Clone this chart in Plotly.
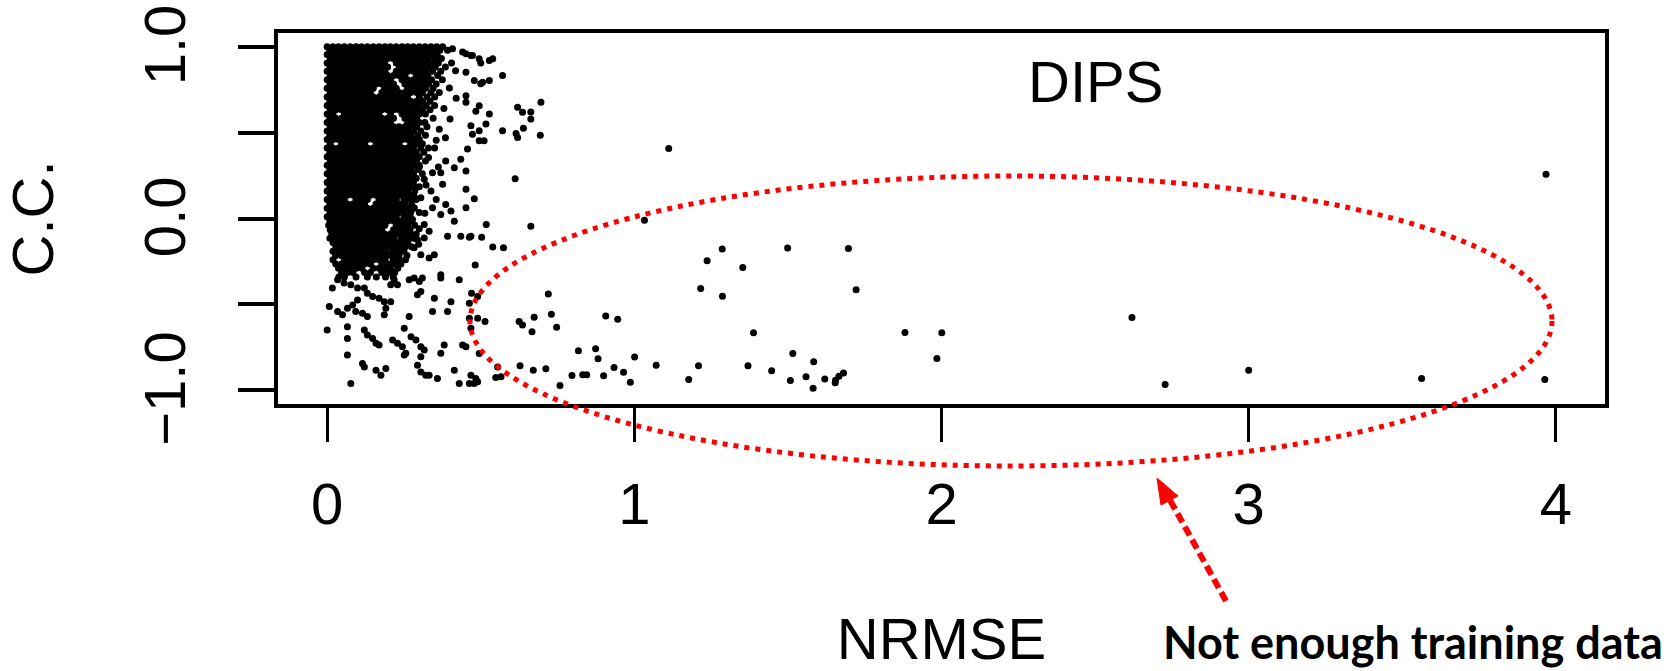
import plotly.graph_objects as go

# ---------------- data ----------------
# Dense core of the cloud: each row = (C.C. value, list of NRMSE values)
core_rows = [
    (1.000, [0, .019, .037, .056, .075, .094, .112, .131, .150, .169, .188, .206, .225, .244, .262, .281, .300, .319, .338, .357, .376]),
    (0.979, [.009, .028, .047, .066, .084, .103, .122, .141, .160, .178, .197, .216, .235, .253, .272, .291, .310, .329, .348, .367, .392]),
    (0.955, [0, .019, .038, .056, .075, .094, .113, .131, .150, .169, .188, .206, .225, .244, .263, .281, .300, .320, .340, .358]),
    (0.931, [.010, .028, .047, .065, .084, .103, .122, .140, .159, .178, .197, .215, .234, .253, .272, .290, .309, .328, .350, .372]),
    (0.906, [0, .019, .037, .056, .075, .094, .112, .131, .150, .169, .187, .225, .244, .262, .281, .300, .319, .340, .362]),
    (0.882, [.009, .028, .047, .066, .084, .103, .122, .141, .159, .178, .197, .235, .253, .272, .291, .310, .330, .352, .385]),
    (0.857, [0, .019, .038, .056, .075, .094, .112, .131, .150, .169, .188, .225, .244, .263, .281, .300, .320, .343, .370]),
    (0.832, [.010, .028, .047, .066, .085, .103, .122, .141, .160, .178, .197, .216, .234, .253, .291, .309, .328, .360]),
    (0.808, [0, .019, .037, .056, .075, .094, .113, .131, .150, .169, .187, .206, .244, .262, .281, .300, .319, .340, .375]),
    (0.783, [.009, .028, .047, .066, .084, .103, .122, .141, .159, .178, .197, .216, .253, .272, .291, .310, .330, .355]),
    (0.758, [0, .019, .038, .056, .075, .094, .112, .131, .150, .187, .206, .225, .262, .281, .300, .320, .345]),
    (0.733, [.010, .028, .047, .066, .084, .103, .122, .141, .178, .197, .216, .234, .253, .272, .291, .310, .338, .365]),
    (0.708, [0, .019, .037, .056, .075, .094, .113, .131, .150, .169, .187, .206, .225, .244, .262, .300, .325, .350]),
    (0.683, [.009, .028, .047, .066, .084, .103, .122, .141, .159, .178, .197, .216, .234, .253, .272, .291, .310, .335]),
    (0.658, [0, .019, .038, .056, .075, .094, .112, .131, .150, .169, .188, .206, .225, .244, .262, .281, .300, .322, .350]),
    (0.633, [.010, .028, .047, .066, .085, .103, .122, .141, .160, .178, .197, .216, .234, .253, .272, .291, .310, .335]),
    (0.608, [0, .019, .056, .075, .094, .112, .131, .150, .169, .206, .244, .262, .281, .300, .320]),
    (0.584, [.009, .028, .047, .066, .084, .103, .122, .141, .159, .178, .197, .216, .253, .272, .291, .345]),
    (0.559, [0, .019, .038, .056, .075, .094, .112, .131, .150, .169, .188, .206, .262, .281, .300, .318]),
    (0.534, [.010, .028, .047, .066, .085, .103, .122, .141, .160, .178, .197, .216, .234, .253, .272, .291, .325]),
    (0.509, [0, .019, .037, .056, .075, .094, .113, .131, .150, .169, .187, .206, .225, .244, .262, .281, .305]),
    (0.485, [.009, .028, .047, .066, .084, .103, .122, .141, .159, .178, .197, .216, .234, .253, .272, .295, .320]),
    (0.460, [0, .019, .038, .056, .075, .094, .112, .131, .150, .169, .188, .206, .225, .244, .262, .281, .300]),
    (0.435, [.010, .047, .066, .085, .103, .122, .160, .178, .197, .216, .234, .272, .291, .310]),
    (0.410, [0, .019, .037, .056, .075, .094, .113, .131, .150, .169, .187, .206, .225, .244, .262, .281, .305, .330]),
    (0.385, [.009, .028, .047, .066, .084, .103, .122, .141, .159, .178, .197, .216, .234, .253, .272, .290, .315]),
    (0.360, [0, .019, .038, .056, .075, .094, .112, .131, .150, .169, .188, .206, .225, .244, .262, .281, .300]),
    (0.335, [.010, .028, .047, .066, .085, .103, .122, .141, .160, .178, .197, .216, .234, .253, .272, .291, .320]),
    (0.310, [0, .019, .037, .056, .075, .094, .113, .131, .150, .169, .187, .206, .225, .244, .262, .281, .300]),
    (0.285, [.009, .028, .047, .066, .084, .103, .122, .141, .159, .178, .197, .216, .234, .253, .272, .295]),
    (0.260, [0, .019, .038, .056, .075, .094, .112, .131, .150, .169, .188, .206, .225, .244, .262, .281, .310]),
    (0.235, [.010, .028, .047, .066, .085, .103, .122, .141, .160, .178, .197, .216, .234, .253, .272, .290]),
    (0.210, [0, .019, .037, .056, .075, .094, .113, .131, .150, .169, .187, .206, .225, .244, .262, .281]),
    (0.185, [.009, .028, .047, .066, .084, .103, .122, .141, .159, .178, .197, .216, .234, .253, .272, .300]),
    (0.160, [0, .019, .038, .056, .075, .094, .112, .131, .150, .169, .188, .206, .225, .244, .262, .285]),
    (0.135, [.010, .028, .047, .066, .085, .103, .122, .141, .160, .178, .197, .216, .234, .253, .272]),
    (0.110, [0, .019, .037, .056, .094, .113, .131, .169, .187, .206, .225, .250, .270, .290]),
    (0.085, [.009, .028, .047, .066, .084, .103, .122, .159, .178, .197, .216, .234, .253, .275]),
    (0.060, [0, .019, .038, .056, .075, .094, .112, .131, .150, .169, .188, .206, .225, .244, .262, .283]),
    (0.035, [.010, .028, .047, .066, .085, .103, .122, .141, .160, .178, .197, .216, .234, .253, .272, .300]),
    (0.010, [0, .019, .037, .056, .075, .094, .113, .131, .150, .169, .187, .206, .225, .250, .270]),
    (-0.015, [.009, .028, .047, .066, .084, .103, .122, .141, .159, .178, .197, .216, .234, .253, .272]),
    (-0.040, [.005, .019, .038, .056, .075, .094, .112, .131, .150, .169, .188, .225, .244, .262, .285]),
    (-0.065, [.010, .028, .047, .066, .085, .103, .122, .141, .160, .178, .216, .234, .253, .270]),
    (-0.090, [.015, .037, .056, .075, .094, .113, .131, .150, .169, .187, .206, .225, .244, .262, .290]),
    (-0.115, [.009, .028, .047, .066, .084, .103, .122, .141, .159, .178, .197, .216, .240, .258, .280]),
    (-0.140, [.019, .038, .056, .075, .094, .112, .131, .150, .169, .188, .206, .225, .244, .262]),
    (-0.165, [.028, .047, .066, .085, .103, .122, .141, .160, .178, .197, .216, .234, .255, .275]),
    (-0.190, [.019, .037, .056, .075, .094, .113, .131, .150, .169, .187, .210, .230, .250]),
    (-0.215, [.028, .047, .066, .084, .103, .122, .141, .159, .178, .197, .216, .234, .260]),
    (-0.240, [.019, .056, .075, .094, .112, .131, .150, .169, .188, .215, .235, .255]),
    (-0.265, [.028, .047, .066, .085, .103, .122, .141, .178, .200, .220, .240]),
    (-0.290, [.037, .056, .075, .094, .113, .150, .169, .188, .206, .230]),
    (-0.315, [.047, .066, .084, .122, .141, .178, .200, .220]),
    (-0.340, [.038, .056, .094, .131, .160, .190, .215]),
]

# Scattered points around the core (NRMSE, C.C.)
edge_points = [
    (0.408, 0.988), (0.441, 0.969), (0.468, 0.949), (0.528, 0.920), (0.506, 0.793),
    (0.452, 0.959), (0.473, 0.949), (0.495, 0.930), (0.500, 0.905), (0.539, 0.930), (0.571, 0.832), (0.452, 0.852),
    (0.479, 0.803), (0.500, 0.784), (0.528, 0.803), (0.452, 0.715), (0.452, 0.677), (0.495, 0.657), (0.484, 0.624),
    (0.528, 0.608), (0.620, 0.647), (0.636, 0.618), (0.468, 0.540), (0.473, 0.491), (0.495, 0.511), (0.517, 0.550),
    (0.511, 0.452), (0.495, 0.452), (0.571, 0.511), (0.615, 0.495), (0.620, 0.472), (0.639, 0.525), (0.457, 0.404),
    (0.452, 0.277), (0.612, 0.232), (0.452, 0.170), (0.479, 0.115), (0.452, 0.063),
    (0.696, 0.677), (0.663, 0.620), (0.663, 0.579), (0.694, 0.485),
    (0.251, 0.335), (0.386, 0.335), (0.414, 0.296), (0.435, 0.345), (0.343, 0.267), (0.370, 0.267),
    (0.283, 0.238), (0.316, 0.228), (0.376, 0.199), (0.283, 0.130), (0.305, 0.121), (0.338, 0.160), (0.343, 0.063),
    (0.386, 0.082), (0.403, 0.043), (0.370, 0.023), (0.414, -0.016), (0.283, 0.063), (0.278, -0.006),
    (0.316, -0.035), (0.332, -0.074), (0.316, -0.113), (0.294, -0.123), (0.273, -0.094), (0.283, -0.171),
    (0.305, -0.211), (0.332, -0.230), (0.349, -0.211), (0.392, -0.104), (0.435, -0.104), (0.468, -0.104), (0.370, -0.327),
    (0.518, -0.035), (0.463, -0.109), (0.503, -0.109), (0.539, -0.166), (0.574, -0.171), (0.482, -0.271), (0.663, -0.045),
    (0.405, 0.905), (0.418, 0.860), (0.398, 0.760), (0.420, 0.700), (0.380, 0.640), (0.400, 0.580), (0.365, 0.520),
    (0.385, 0.470), (0.350, 0.410), (0.330, 0.355), (0.300, 0.300), (0.290, 0.180),
    (0.355, 0.455), (0.362, 0.300), (0.322, 0.195), (0.355, 0.110), (0.318, 0.030), (0.300, -0.060), (0.298, -0.150),
]

# Lower-left chains of points (NRMSE, C.C.)
lower_points = [
    (0.017, -0.405), (0.034, -0.357), (0.055, -0.376), (0.077, -0.386), (0.099, -0.405), (0.121, -0.405), (0.131, -0.435),
    (0.148, -0.454), (0.169, -0.464), (0.186, -0.484), (0.207, -0.484), (0.191, -0.522), (0.186, -0.561),
    (0.007, -0.513), (0.034, -0.542), (0.050, -0.561), (0.066, -0.522), (0.083, -0.503), (0.099, -0.474), (0.093, -0.542),
    (0.115, -0.552), (0.131, -0.571), (0.000, -0.649), (0.066, -0.630), (0.066, -0.698), (0.066, -0.795), (0.077, -0.961),
    (0.121, -0.649), (0.131, -0.678), (0.148, -0.698), (0.159, -0.727), (0.169, -0.737),
    (0.115, -0.844), (0.121, -0.864), (0.159, -0.883), (0.175, -0.912), (0.191, -0.873),
    (0.213, -0.708), (0.229, -0.727), (0.245, -0.747), (0.251, -0.795), (0.256, -0.785),
    (0.251, -0.639), (0.267, -0.571), (0.207, -0.386), (0.229, -0.386), (0.218, -0.357),
    (0.267, -0.357), (0.283, -0.347), (0.300, -0.367), (0.310, -0.347), (0.305, -0.425), (0.294, -0.444),
    (0.273, -0.688), (0.289, -0.708), (0.305, -0.747), (0.316, -0.766), (0.305, -0.805), (0.294, -0.854),
    (0.305, -0.893), (0.321, -0.912), (0.332, -0.912), (0.359, -0.932),
    (0.349, -0.464), (0.343, -0.542), (0.392, -0.542), (0.403, -0.484), (0.370, -0.347), (0.430, -0.357),
    (0.381, -0.737), (0.370, -0.785), (0.414, -0.883), (0.441, -0.737), (0.430, -0.961), (0.463, -0.961),
    (0.470, -0.435), (0.463, -0.493), (0.490, -0.454), (0.463, -0.581), (0.490, -0.581), (0.514, -0.600), (0.468, -0.639),
    (0.625, -0.600), (0.636, -0.620), (0.452, -0.747), (0.495, -0.786), (0.555, -0.864), (0.566, -0.922), (0.549, -0.926),
    (0.468, -0.912), (0.484, -0.932), (0.479, -0.961), (0.490, -0.951), (0.628, -0.858),
]

# Points with large NRMSE (NRMSE, C.C.)
far_points = [
    (1.112, 0.408), (1.033, -0.010), (1.286, -0.177), (1.237, -0.246), (1.353, -0.285), (1.499, -0.172), (1.697, -0.175),
    (1.216, -0.407), (1.287, -0.452), (1.722, -0.415), (0.720, -0.440), (0.674, -0.575), (0.730, -0.557), (0.667, -0.659),
    (0.747, -0.633), (0.907, -0.567), (0.946, -0.587), (1.388, -0.665), (1.881, -0.663), (2.001, -0.665), (1.985, -0.815),
    (0.818, -0.770), (0.874, -0.758), (0.882, -0.817), (1.001, -0.807), (1.516, -0.786), (1.584, -0.834),
    (0.671, -0.883), (0.712, -0.875), (0.797, -0.914), (0.832, -0.910), (0.845, -0.910), (0.900, -0.916), (0.934, -0.868),
    (0.965, -0.895), (0.987, -0.953), (0.758, -0.973), (1.071, -0.854), (1.177, -0.938), (1.209, -0.858), (1.370, -0.858),
    (1.447, -0.887), (1.508, -0.943), (1.559, -0.922), (1.582, -0.988), (1.620, -0.934), (1.655, -0.942), (1.666, -0.918),
    (1.681, -0.899), (1.654, -0.957),
    (3.968, 0.257), (2.620, -0.577), (2.728, -0.967), (3.000, -0.883), (3.563, -0.932), (3.964, -0.938),
]

x_ticks = [0, 1, 2, 3, 4]
x_tick_labels = ["0", "1", "2", "3", "4"]
y_ticks = [-1.0, -0.5, 0.0, 0.5, 1.0]
y_tick_labels = ["\u22121.0", "", "0.0", "", "1.0"]

# ---------------- build arrays ----------------
nrmse, cc = [], []
for yv, xs in core_rows:
    for xv in xs:
        nrmse.append(xv)
        cc.append(yv)
for group in (edge_points, lower_points, far_points):
    for xv, yv in group:
        nrmse.append(xv)
        cc.append(yv)

W, H = 1680, 671
L, R, T, B = 278, 75, 33, 267
pw, ph = W - L - R, H - T - B


def px(xp):
    return (xp - L) / pw


def py(yp):
    return (H - B - yp) / ph


fig = go.Figure()
fig.add_trace(go.Scatter(
    x=nrmse, y=cc, mode="markers",
    marker=dict(color="black", size=7, line=dict(width=0)),
    showlegend=False, hoverinfo="skip",
))

axis_font = dict(family="Liberation Sans, Arial", size=58, color="black")

fig.update_layout(
    width=W, height=H,
    margin=dict(l=L, r=R, t=T, b=B, autoexpand=False),
    paper_bgcolor="white", plot_bgcolor="white",
    font=axis_font,
    xaxis=dict(
        range=[-0.16, 4.16], tickmode="array", tickvals=x_ticks, ticktext=x_tick_labels,
        ticks="outside", ticklen=34, tickwidth=3, tickcolor="black",
        showline=True, linewidth=4, linecolor="black", mirror=True,
        showgrid=False, zeroline=False, tickfont=axis_font, ticklabelstandoff=12,
        ticklabeloverflow="allow",
        title=dict(text="NRMSE", font=axis_font, standoff=94),
        automargin=False,
    ),
    yaxis=dict(
        range=[-1.08, 1.08], tickmode="array", tickvals=y_ticks, ticktext=y_tick_labels,
        ticks="outside", ticklen=36, tickwidth=4, tickcolor="black", tickangle=-90,
        showline=True, linewidth=4, linecolor="black", mirror=True,
        showgrid=False, zeroline=False, tickfont=axis_font, ticklabelstandoff=30,
        ticklabelshift=7, ticklabeloverflow="allow",
        title=dict(text="C.C.", font=axis_font, standoff=80),
        automargin=False,
    ),
)

# "DIPS" label inside the plot
fig.add_annotation(x=2.5, y=0.80, xref="x", yref="y", text="DIPS", showarrow=False,
                   xanchor="center", yanchor="middle", font=axis_font)

# red dotted ellipse
fig.add_shape(type="circle", xref="paper", yref="paper",
              x0=px(470), x1=px(1552), y0=py(466), y1=py(176),
              line=dict(color="#FF0000", width=5, dash="5px,6px"), layer="above")

# dashed arrow (shaft + head)
fig.add_shape(type="line", xref="paper", yref="paper",
              x0=px(1226), y0=py(601), x1=px(1170), y1=py(500),
              line=dict(color="#FF0000", width=6, dash="10px,5px"))
head = "M {:.4f} {:.4f} L {:.4f} {:.4f} L {:.4f} {:.4f} Z".format(
    px(1157), py(478), px(1178), py(496), px(1161), py(505))
fig.add_shape(type="path", xref="paper", yref="paper", path=head,
              fillcolor="#FF0000", line=dict(color="#FF0000", width=1))

fig.add_annotation(x=px(1413), y=py(642), xref="paper", yref="paper",
                   xanchor="center", yanchor="middle",
                   text="<b>Not enough training data</b>", showarrow=False,
                   font=dict(family="Lato", size=45, color="black"))

fig.write_html("out.html", config={"displayModeBar": False},
               post_script="document.body.style.margin='0';document.body.style.overflow='hidden';")
